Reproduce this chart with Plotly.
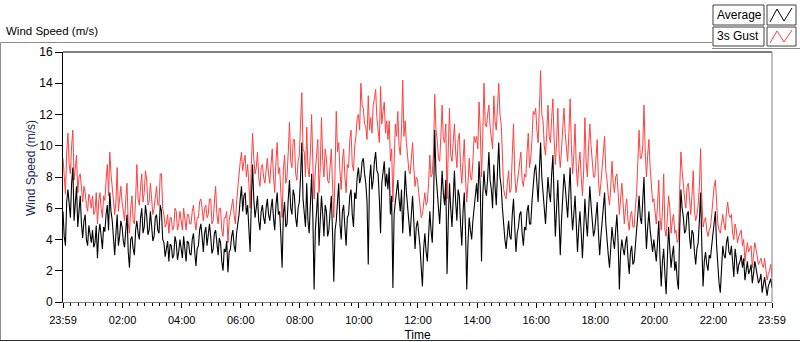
import plotly.graph_objects as go

# ---- data (2.5-minute samples from 23:59 to 23:59 next day), m/s ----
avg_speed = [
    5.8, 4.2, 3.6, 6.4, 7.2, 6.0, 5.4, 7.6, 8.6, 5.2, 6.2, 7.4, 4.8, 5.9, 6.8, 5.0, 4.1, 5.2, 5.6, 4.0, 3.6, 4.9, 4.4, 3.8,
    4.6, 3.5, 3.8, 4.9, 2.8, 4.4, 5.0, 3.9, 3.4, 4.8, 4.5, 5.6, 6.2, 4.6, 7.0, 5.8, 5.2, 4.1, 3.0, 4.4, 5.6, 3.6, 4.2, 5.2,
    4.8, 3.9, 3.5, 4.6, 5.6, 3.2, 2.2, 4.0, 4.2, 3.4, 3.0, 4.6, 5.2, 4.4, 4.0, 5.4, 6.0, 4.4, 4.8, 6.2, 5.5, 4.3, 4.6, 5.8,
    5.0, 3.9, 4.2, 5.4, 5.6, 4.6, 4.4, 6.2, 5.8, 4.0, 3.8, 2.9, 3.4, 3.9, 2.6, 3.7, 3.6, 2.8, 3.0, 4.2, 3.8, 2.7, 3.2, 4.0,
    3.4, 2.8, 4.2, 3.5, 2.6, 3.9, 3.8, 3.1, 3.0, 4.0, 4.4, 3.2, 2.3, 3.4, 3.6, 4.6, 5.0, 4.2, 3.2, 4.4, 4.8, 3.6, 4.4, 5.0,
    4.2, 3.1, 3.4, 4.4, 4.6, 3.6, 3.0, 4.1, 3.8, 2.6, 2.0, 3.4, 3.2, 3.9, 1.9, 3.2, 3.4, 4.2, 4.6, 3.6, 3.2, 4.4, 5.0, 5.6,
    6.6, 7.4, 5.8, 6.8, 7.0, 5.6, 6.2, 5.0, 3.2, 6.4, 8.8, 6.6, 5.4, 6.0, 6.8, 5.2, 4.6, 5.8, 6.2, 5.4, 5.0, 6.0, 6.6, 5.6,
    5.2, 6.0, 6.6, 5.4, 4.6, 6.2, 7.0, 5.6, 5.8, 4.2, 2.2, 5.6, 6.4, 4.8, 5.0, 6.6, 7.8, 6.0, 5.6, 7.2, 6.8, 5.4, 4.8, 6.0,
    6.4, 8.0, 10.2, 6.6, 5.8, 4.8, 7.6, 5.2, 4.4, 6.4, 8.2, 5.4, 0.8, 4.6, 5.6, 7.0, 3.6, 5.2, 6.8, 5.6, 4.2, 6.2, 5.8, 4.2,
    4.6, 5.8, 6.8, 4.4, 1.3, 4.6, 5.2, 6.4, 7.6, 5.0, 4.0, 5.8, 6.2, 4.8, 3.6, 5.4, 5.6, 6.8, 7.2, 5.6, 4.8, 7.0, 6.6, 8.0,
    8.6, 7.6, 8.0, 9.0, 9.2, 8.2, 7.6, 6.4, 2.4, 7.8, 8.8, 7.2, 7.8, 9.0, 9.6, 8.4, 8.2, 6.6, 4.4, 7.6, 8.6, 9.0, 7.4, 8.2,
    7.2, 8.6, 5.6, 6.8, 0.9, 5.6, 6.4, 7.4, 7.8, 6.6, 5.8, 7.2, 4.4, 6.2, 8.4, 7.0, 6.0, 5.0, 4.2, 5.6, 6.8, 5.2, 3.4, 4.8,
    5.2, 4.4, 3.6, 2.2, 1.0, 3.4, 4.4, 3.2, 2.6, 4.2, 5.8, 4.6, 3.8, 6.2, 11.0, 8.2, 7.2, 6.0, 5.0, 6.6, 8.4, 7.0, 6.2, 7.8,
    1.8, 5.2, 7.6, 6.0, 4.8, 6.6, 8.4, 6.4, 5.2, 7.2, 6.8, 5.0, 3.6, 5.8, 7.0, 4.6, 0.8, 3.8, 5.4, 4.6, 4.0, 5.2, 6.0, 6.8,
    7.6, 6.4, 9.0, 7.4, 2.6, 6.8, 8.4, 7.2, 6.8, 8.0, 9.6, 7.8, 7.2, 6.0, 8.8, 7.4, 6.2, 8.4, 10.2, 8.0, 7.4, 6.0, 4.8, 4.0,
    3.4, 4.6, 5.2, 4.2, 4.0, 5.6, 6.6, 4.8, 3.2, 4.4, 4.8, 5.6, 5.8, 4.4, 3.6, 4.8, 4.6, 5.8, 6.2, 5.0, 5.0, 6.4, 7.6, 8.4,
    8.8, 7.2, 6.4, 8.4, 10.2, 8.0, 7.2, 6.0, 5.0, 6.8, 8.0, 7.0, 6.4, 8.2, 9.4, 6.6, 4.2, 6.0, 7.8, 5.4, 3.0, 5.2, 6.8, 8.2,
    7.4, 6.2, 5.4, 7.0, 8.6, 6.0, 4.6, 5.6, 6.8, 5.0, 3.2, 4.8, 5.8, 4.4, 2.8, 4.6, 6.6, 5.2, 4.2, 5.8, 7.4, 6.2, 5.0, 4.2,
    4.6, 5.6, 6.4, 4.4, 3.0, 4.2, 5.2, 6.2, 7.0, 5.0, 3.8, 3.0, 2.2, 3.6, 4.8, 4.0, 3.4, 4.6, 5.6, 3.8, 0.8, 3.2, 4.0, 3.4,
    3.0, 3.8, 4.2, 2.8, 1.8, 3.2, 3.6, 2.4, 2.6, 3.6, 4.4, 5.6, 6.8, 5.4, 5.0, 6.4, 8.0, 5.2, 3.4, 4.8, 5.8, 4.6, 4.0, 3.2,
    4.0, 3.2, 2.6, 3.8, 5.2, 2.8, 1.0, 2.6, 3.4, 1.8, 0.5, 2.8, 4.8, 3.4, 2.2, 3.0, 3.6, 2.0, 2.6, 1.4, 0.8, 4.6, 7.2, 6.0,
    5.4, 4.4, 4.6, 5.6, 5.8, 4.2, 3.4, 4.6, 4.4, 3.2, 2.4, 3.4, 3.8, 5.2, 7.0, 3.6, 1.0, 2.6, 3.2, 2.4, 2.0, 3.0, 2.8, 3.6,
    4.4, 5.2, 5.8, 3.6, 2.0, 1.2, 0.6, 2.4, 3.6, 3.0, 2.8, 3.8, 4.2, 3.2, 3.0, 3.6, 2.4, 1.6, 3.4, 2.8, 1.8, 2.4, 2.6, 3.0,
    2.2, 2.8, 1.4, 2.0, 2.6, 1.8, 2.0, 2.4, 1.2, 1.8, 2.6, 2.2, 1.8, 1.2, 1.4, 1.8, 0.6, 1.2, 1.6, 1.0, 0.4, 1.0, 1.2, 1.5,
    0.9,
]

gust_speed = [
    9.2, 7.6, 6.9, 9.6, 10.8, 8.8, 8.2, 10.0, 11.0, 7.8, 8.8, 9.4, 7.0, 8.0, 8.2, 7.0, 6.4, 7.4, 7.0, 6.2, 5.8, 6.9, 6.6, 6.0,
    6.8, 5.6, 5.8, 7.0, 5.0, 6.4, 7.0, 6.0, 5.4, 6.8, 6.5, 7.8, 8.8, 6.8, 9.6, 8.2, 7.4, 6.2, 5.6, 6.4, 8.6, 5.8, 6.5, 7.4,
    6.4, 5.8, 5.2, 6.6, 7.6, 5.0, 4.4, 6.0, 6.8, 5.2, 5.0, 6.6, 8.8, 6.6, 6.2, 7.4, 8.2, 6.4, 7.0, 8.4, 7.8, 6.2, 6.4, 7.6,
    6.8, 5.6, 6.0, 7.0, 7.4, 6.2, 6.2, 8.2, 8.2, 6.0, 5.6, 4.8, 5.0, 5.6, 4.4, 5.4, 5.4, 4.6, 4.8, 6.0, 5.8, 4.6, 5.0, 5.8,
    5.2, 4.6, 6.0, 5.4, 4.6, 5.6, 5.6, 5.0, 5.0, 5.8, 6.2, 5.2, 4.6, 5.4, 5.4, 6.4, 6.6, 6.0, 5.2, 6.0, 6.2, 5.4, 5.6, 6.6,
    6.6, 5.0, 5.2, 6.4, 7.4, 5.6, 5.0, 6.0, 6.0, 4.6, 4.2, 5.4, 5.4, 5.8, 3.8, 5.2, 5.6, 6.2, 6.6, 5.6, 5.0, 6.4, 7.4, 8.0,
    9.0, 9.6, 8.4, 9.0, 9.4, 8.0, 8.8, 7.6, 6.0, 8.8, 10.8, 9.2, 8.2, 8.6, 9.6, 8.0, 7.4, 8.6, 8.8, 8.0, 7.6, 8.4, 9.2, 8.2,
    7.6, 8.8, 9.8, 8.0, 7.0, 9.0, 10.2, 8.2, 8.6, 7.0, 5.4, 8.4, 9.4, 7.6, 8.0, 9.6, 11.5, 9.0, 8.6, 10.4, 10.4, 8.2, 7.8, 9.0,
    9.4, 11.4, 13.4, 9.8, 9.6, 8.0, 11.2, 8.6, 8.0, 9.6, 12.0, 8.8, 6.6, 8.4, 9.4, 10.4, 7.0, 8.6, 11.8, 9.0, 8.0, 9.8, 9.2, 7.8,
    7.6, 9.0, 9.8, 7.4, 5.4, 8.2, 12.2, 9.6, 10.2, 8.4, 7.2, 9.0, 9.8, 8.0, 7.0, 8.8, 8.6, 10.4, 11.0, 8.8, 8.4, 10.0, 10.6, 11.8,
    12.0, 11.0, 14.0, 12.6, 12.4, 11.4, 11.2, 10.4, 13.2, 11.0, 11.8, 10.8, 12.6, 13.0, 13.6, 11.8, 11.0, 10.2, 13.8, 11.4, 12.2, 12.8, 10.8, 11.6,
    10.4, 11.6, 9.0, 9.8, 6.4, 9.0, 11.4, 10.6, 12.2, 10.0, 9.4, 11.0, 14.2, 10.6, 11.6, 10.2, 9.2, 8.4, 8.2, 9.0, 10.2, 8.6, 7.4, 8.0,
    7.8, 7.0, 6.2, 5.4, 5.6, 6.4, 7.0, 6.2, 6.4, 7.6, 9.4, 8.0, 8.2, 9.6, 13.3, 11.0, 10.4, 9.2, 9.0, 10.6, 12.6, 10.4, 10.2, 11.4,
    6.6, 9.8, 12.4, 9.4, 9.0, 10.2, 11.4, 9.6, 8.6, 10.4, 10.8, 8.6, 7.6, 9.0, 10.4, 8.0, 6.4, 7.6, 9.2, 8.0, 7.8, 9.0, 10.6, 10.2,
    10.6, 9.8, 12.8, 11.0, 8.0, 10.6, 14.0, 11.4, 11.2, 12.0, 12.6, 11.2, 10.4, 9.8, 13.2, 11.6, 11.0, 12.2, 14.0, 12.0, 11.4, 9.4, 7.2, 6.8,
    6.6, 7.6, 8.4, 7.0, 7.2, 9.4, 11.4, 8.2, 7.0, 7.6, 8.2, 9.0, 9.6, 7.8, 7.4, 8.2, 8.0, 9.6, 10.8, 8.6, 9.2, 10.4, 12.2, 12.0,
    12.4, 11.0, 10.2, 12.4, 14.8, 12.0, 11.6, 10.0, 9.4, 10.8, 12.6, 10.6, 10.2, 11.8, 13.0, 10.4, 8.8, 10.2, 12.4, 9.6, 8.6, 9.8, 11.2, 12.4,
    10.8, 9.6, 9.0, 10.8, 13.0, 10.0, 8.2, 9.4, 11.4, 8.6, 7.4, 8.8, 9.6, 8.0, 6.8, 8.4, 11.8, 9.0, 8.0, 10.0, 11.4, 10.0, 9.2, 8.0,
    8.0, 9.0, 10.4, 7.8, 6.8, 7.6, 8.6, 9.8, 10.6, 8.4, 7.8, 6.8, 6.2, 7.4, 9.0, 7.6, 7.0, 8.0, 8.2, 7.0, 5.6, 6.6, 7.6, 6.4,
    5.0, 6.0, 6.6, 5.2, 4.6, 5.6, 5.8, 4.8, 4.8, 6.0, 7.0, 9.0, 11.0, 9.2, 9.2, 10.0, 12.6, 9.6, 8.0, 9.4, 10.4, 8.6, 7.6, 6.4,
    6.6, 5.6, 5.0, 6.2, 7.8, 5.4, 4.6, 5.8, 8.2, 4.6, 4.2, 5.4, 6.8, 6.0, 4.4, 5.2, 5.6, 4.4, 4.6, 3.8, 4.0, 7.2, 9.6, 8.4,
    7.2, 6.6, 6.0, 7.4, 7.6, 6.2, 5.6, 6.8, 8.4, 5.8, 5.2, 5.6, 6.2, 7.4, 9.8, 6.6, 4.8, 5.2, 5.4, 4.6, 4.2, 4.6, 4.8, 5.6,
    6.6, 7.4, 7.8, 6.0, 5.0, 4.6, 4.4, 5.0, 5.6, 5.0, 4.6, 5.8, 6.4, 5.6, 5.4, 5.6, 4.4, 4.0, 5.0, 4.6, 3.8, 4.2, 4.4, 4.6,
    3.6, 4.0, 2.6, 3.4, 3.8, 3.2, 3.4, 3.6, 2.2, 3.0, 3.8, 3.4, 3.0, 2.4, 2.6, 2.8, 2.4, 2.2, 2.8, 2.0, 1.4, 1.8, 2.0, 2.4,
    1.6,
]

assert len(avg_speed) == len(gust_speed) == 577

sample_minutes = 2.5  # spacing between samples
hours = [i * sample_minutes / 60 for i in range(len(avg_speed))]

tick_labels = ["23:59", "02:00", "04:00", "06:00", "08:00", "10:00", "12:00",
               "14:00", "16:00", "18:00", "20:00", "22:00", "23:59"]
tick_hours = [0] + [2 * k + 1 / 60 for k in range(1, 12)] + [24]

series_names = ["Average", "3s Gust"]
series_colors = ["#000000", "#ff4040"]

FONT = "Liberation Sans"

# ---- geometry helpers (pixel -> paper) ----
L, R, T, B = 63, 772, 52, 302
def px(x):
    return (x - L) / (R - L)
def py(y):
    return (B - y) / (B - T)

fig = go.Figure()
fig.add_trace(go.Scatter(x=hours, y=gust_speed, mode="lines", name=series_names[1],
                         line=dict(color=series_colors[1], width=1), showlegend=False))
fig.add_trace(go.Scatter(x=hours, y=avg_speed, mode="lines", name=series_names[0],
                         line=dict(color=series_colors[0], width=1.1), showlegend=False))

fig.update_layout(
    width=800, height=342,
    margin=dict(l=L, r=800 - R, t=T, b=342 - B, autoexpand=False),
    paper_bgcolor="white", plot_bgcolor="white",
    font=dict(family=FONT, size=11, color="black"),
    showlegend=False,
)
fig.update_xaxes(
    range=[0, 24], tickmode="array", tickvals=tick_hours, ticktext=tick_labels,
    ticks="outside", ticklen=5, tickcolor="black", tickwidth=1, ticklabelstandoff=3,
    showline=True, linecolor="#808080", linewidth=1, showgrid=False, zeroline=False,
    minor=dict(tick0=1 / 60, dtick=0.25, ticks="outside", ticklen=3, tickcolor="black"),
    tickfont=dict(family=FONT, size=11, color="black"),
    title=dict(text="Time", font=dict(family=FONT, size=12, color="black"), standoff=5),
    automargin=False,
)
fig.update_yaxes(
    range=[0, 16], tickmode="linear", tick0=0, dtick=2,
    ticks="outside", ticklen=7, tickcolor="black", tickwidth=1,
    showline=True, linecolor="black", linewidth=1, showgrid=False, zeroline=False,
    tickfont=dict(family=FONT, size=12, color="black"),
    automargin=False,
)

shapes = []
# plot frame top (black) and right (gray)
shapes.append(dict(type="line", xref="paper", yref="paper", x0=0, x1=1, y0=1, y1=1,
                   line=dict(color="black", width=1)))
shapes.append(dict(type="line", xref="paper", yref="paper", x0=1, x1=1, y0=0, y1=1,
                   line=dict(color="#808080", width=1)))
# outer frame
gray = "#8c8c8c"
shapes.append(dict(type="line", xref="paper", yref="paper", x0=px(0.5), x1=px(712), y0=py(42.5), y1=py(42.5),
                   line=dict(color=gray, width=1)))
shapes.append(dict(type="line", xref="paper", yref="paper", x0=px(712), x1=px(800), y0=py(48.5), y1=py(48.5),
                   line=dict(color=gray, width=1)))
shapes.append(dict(type="line", xref="paper", yref="paper", x0=px(0.5), x1=px(0.5), y0=py(42.5), y1=py(341),
                   line=dict(color=gray, width=1)))
shapes.append(dict(type="line", xref="paper", yref="paper", x0=px(0), x1=px(800), y0=py(340.5), y1=py(340.5),
                   line=dict(color="#303030", width=1)))

annotations = []
# legend boxes
legend_rows = [(5, 25), (27, 46)]
for (y0, y1), name, col in zip(legend_rows, series_names, series_colors):
    shapes.append(dict(type="rect", xref="paper", yref="paper", x0=px(713), x1=px(764),
                       y0=py(y1), y1=py(y0), line=dict(color="#404040", width=1), fillcolor="white"))
    shapes.append(dict(type="rect", xref="paper", yref="paper", x0=px(767), x1=px(796),
                       y0=py(y1), y1=py(y0), line=dict(color="#404040", width=1), fillcolor="white"))
    pts = [(770, y1 - 3), (777, y0 + 4), (784, y1 - 4), (792, y0 + 3)]
    path = "M " + " L ".join(f"{px(a)},{py(b)}" for a, b in pts)
    shapes.append(dict(type="path", xref="paper", yref="paper", path=path,
                       line=dict(color=col, width=1)))
    annotations.append(dict(text=name, xref="paper", yref="paper", x=px(715), y=py((y0 + y1) / 2),
                            xanchor="left", yanchor="middle", showarrow=False,
                            font=dict(family=FONT, size=12, color="black")))

# chart caption and y title
annotations.append(dict(text="Wind Speed (m/s)", xref="paper", yref="paper", x=px(4), y=py(31),
                        xanchor="left", yanchor="middle", showarrow=False,
                        font=dict(family=FONT, size=11.5, color="black")))
annotations.append(dict(text="Wind Speed (m/s)", xref="paper", yref="paper", x=px(31), y=py(168),
                        xanchor="center", yanchor="middle", textangle=-90, showarrow=False,
                        font=dict(family=FONT, size=12, color="#1c2a55")))

fig.update_layout(shapes=shapes, annotations=annotations)
fig.write_html("out.html", config={"displayModeBar": False},
               post_script="document.body.style.margin='0';document.body.style.padding='0';")
